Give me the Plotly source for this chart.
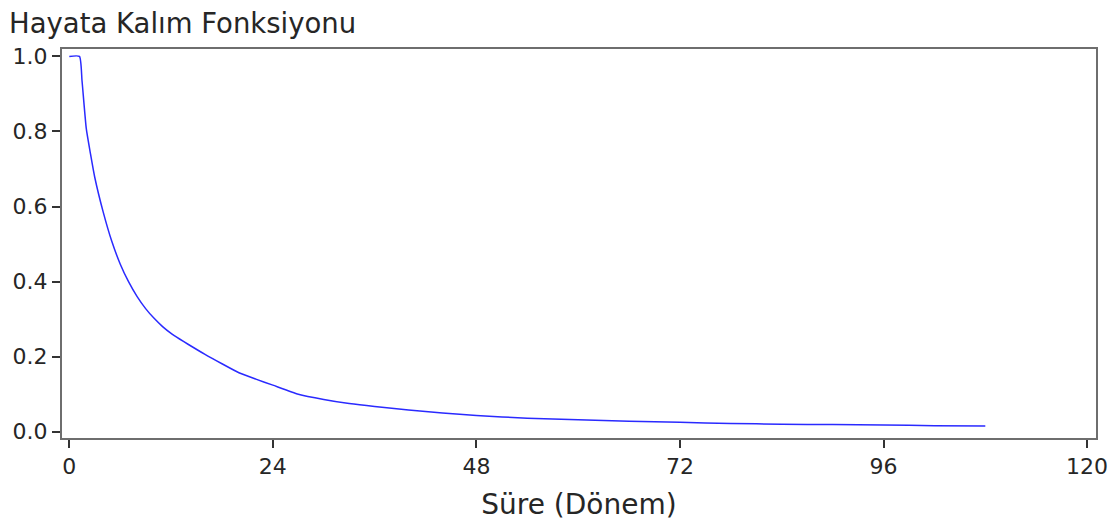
import plotly.graph_objects as go

# Survival function readings (period, survival probability)
period = [0, 1.2, 1.5, 2, 2.5, 3, 4, 5, 6, 7, 8, 9, 10, 11, 12, 13, 14, 16, 18, 20, 22, 24,
          27, 30, 33, 36, 40, 44, 48, 54, 60, 66, 72, 78, 84, 90, 96, 102, 108]
survival = [1.0, 1.0, 0.935, 0.808, 0.74, 0.678, 0.585, 0.508, 0.447, 0.399, 0.360, 0.328,
            0.302, 0.280, 0.262, 0.247, 0.233, 0.206, 0.181, 0.157, 0.140, 0.124,
            0.100, 0.086, 0.075, 0.067, 0.058, 0.050, 0.043, 0.036, 0.032,
            0.028, 0.025, 0.022, 0.020, 0.019, 0.018, 0.016, 0.015]

x_ticks = [0, 24, 48, 72, 96, 120]
y_ticks = [0.0, 0.2, 0.4, 0.6, 0.8, 1.0]

title_text = "Hayata Kalım Fonksiyonu"
x_title = "Süre (Dönem)"

FONT = "DejaVu Sans"
TXT = "#262626"
FRAME = "#6e6e6e"

fig = go.Figure()
fig.add_trace(go.Scatter(
    x=period, y=survival, mode="lines",
    line=dict(color="#2a2aff", width=1.5, shape="spline", smoothing=0.5),
    showlegend=False, hoverinfo="x+y",
))

fig.update_layout(
    width=1120, height=527,
    paper_bgcolor="white", plot_bgcolor="white",
    margin=dict(l=62, r=21, t=49, b=89),
    font=dict(family=FONT, color=TXT, size=22),
    title=dict(text=title_text, x=9/1120, xanchor="left", xref="container",
               y=1 - 23/527, yref="container", yanchor="middle",
               font=dict(family=FONT, size=27.5, color=TXT)),
)

fig.update_xaxes(
    range=[-0.86, 121.05], tickvals=x_ticks, ticktext=[str(v) for v in x_ticks],
    showgrid=False, zeroline=False,
    showline=True, linecolor=FRAME, linewidth=2, mirror=True,
    ticks="outside", ticklen=8, tickwidth=1.5, tickcolor="#333333",
    tickfont=dict(family=FONT, size=22, color=TXT),
    title=dict(text=x_title, font=dict(family=FONT, size=28, color=TXT), standoff=16),
)
fig.update_yaxes(
    range=[-0.0168, 1.0197], tickvals=y_ticks, tickformat=".1f",
    showgrid=False, zeroline=False,
    showline=True, linecolor=FRAME, linewidth=2, mirror=True,
    ticks="outside", ticklen=8, tickwidth=1.5, tickcolor="#333333",
    tickfont=dict(family=FONT, size=22, color=TXT),
)

fig.write_html("out.html")
